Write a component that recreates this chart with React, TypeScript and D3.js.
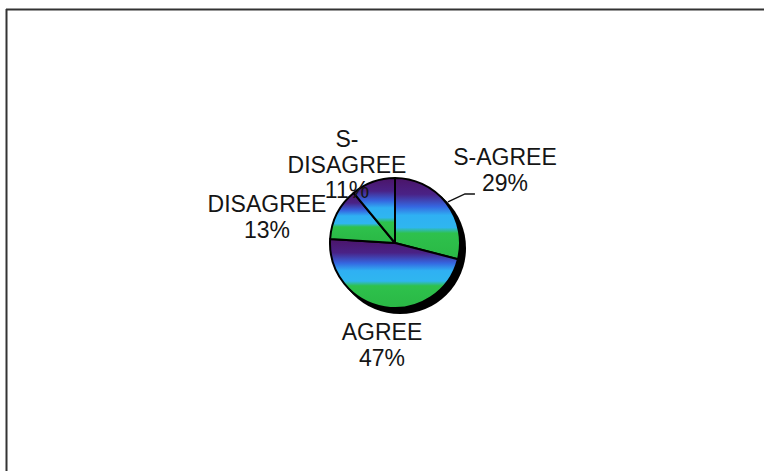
import React from "react";
import * as d3 from "d3";

const categories = ["S-AGREE", "AGREE", "DISAGREE", "S-DISAGREE"];
const values = [29, 47, 13, 11];
const labelLines = [["S-AGREE", "29%"], ["AGREE", "47%"], ["DISAGREE", "13%"], ["S-", "DISAGREE", "11%"]];

// layout (label anchor offsets from pie center, first-line baseline)
const labelLayout = [
  { dx: 110, dy: -78 },
  { dx: -13, dy: 97 },
  { dx: -128, dy: -31 },
  { dx: -48, dy: -96 },
];

const W = 764;
const H = 471;
const CX = 395;
const CY = 243;
const R = 65;

export default function App() {
  const pie = d3.pie<number>().sort(null).value((d) => d);
  const arcs = pie(values);
  const arc = d3.arc<d3.PieArcDatum<number>>().innerRadius(0).outerRadius(R);
  const lineH = 25.5;

  const a0 = arcs[0];
  const mid = (a0.startAngle + a0.endAngle) / 2;
  const p0 = [Math.sin(mid) * (R + 2), -Math.cos(mid) * (R + 2)];

  return (
    <svg width={W} height={H} style={{ position: "absolute", left: 0, top: 0, background: "#fff" }}
      fontFamily="'Liberation Sans', Arial, sans-serif">
      <defs>
        <linearGradient id="g" x1="0" y1="0" x2="0" y2="1">
          <stop offset="0" stopColor="#4b1468" />
          <stop offset="0.2" stopColor="#4a2286" />
          <stop offset="0.35" stopColor="#3566e0" />
          <stop offset="0.46" stopColor="#2fb0f3" />
          <stop offset="0.61" stopColor="#2fb6ef" />
          <stop offset="0.68" stopColor="#2ec14c" />
          <stop offset="1" stopColor="#2ab845" />
        </linearGradient>
      </defs>
      <rect x={0} y={0} width={W} height={H} fill="#ffffff" />
      <line x1={6} y1={9.5} x2={W} y2={9.5} stroke="#333" strokeWidth={2} />
      <line x1={6.5} y1={9} x2={6.5} y2={H} stroke="#333" strokeWidth={2} />
      <g transform={`translate(${CX},${CY})`}>
        <circle cx={5} cy={5} r={R + 1} fill="#000" />
        {arcs.map((a, i) => (
          <path key={categories[i]} d={arc(a) || ""} fill="url(#g)" stroke="#000" strokeWidth={2} strokeLinejoin="round" />
        ))}
        <polyline
          points={`${p0[0]},${p0[1]} ${p0[0] + 17},${p0[1] - 8} ${p0[0] + 27},${p0[1] - 8}`}
          fill="none" stroke="#111" strokeWidth={1.5} />
        {labelLines.map((lines, i) => (
          <text key={i} x={labelLayout[i].dx} y={labelLayout[i].dy} textAnchor="middle" fontSize={23} fill="#151515">
            {lines.map((t, j) => (
              <tspan key={j} x={labelLayout[i].dx} dy={j === 0 ? 0 : lineH}>{t}</tspan>
            ))}
          </text>
        ))}
      </g>
    </svg>
  );
}
